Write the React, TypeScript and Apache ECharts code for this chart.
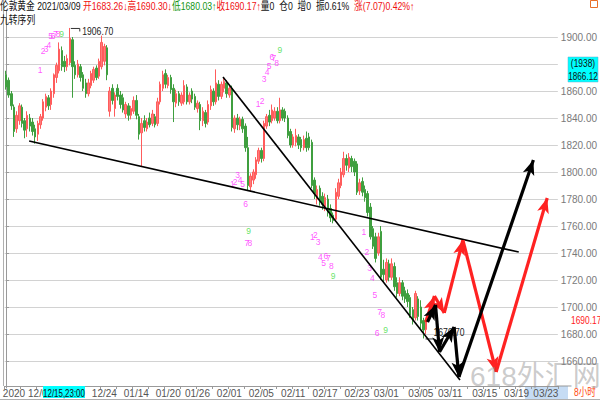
import React, { useEffect, useRef } from 'react';
import * as echarts from 'echarts';

const TOTAL_SLOTS = 208;
const categories: string[] = Array.from({ length: TOTAL_SLOTS }, (_, i) => String(i));

const xLabelIndex = [3, 13, 37, 49, 61, 72, 84, 96, 108, 120, 132, 143, 156, 167, 180, 192, 203];
const xLabelText = ['2020', '12/08', '12/24', '01/14', '01/20', '01/26', '02/01', '02/05', '02/11', '02/17', '02/23', '03/01', '03/05', '03/11', '03/15', '03/19', '03/23'];

// [open, close, low, high]
const candles: number[][] = [
  [1872, 1863, 1861, 1875], [1868, 1857, 1855, 1870], [1858, 1849, 1846, 1860], [1848, 1830, 1826, 1850],
  [1832, 1842, 1829, 1845], [1838, 1849, 1835, 1851], [1848, 1836, 1833, 1850], [1838, 1831, 1825, 1840],
  [1832, 1842, 1826, 1845], [1840, 1834, 1830, 1843], [1837, 1830, 1827, 1840], [1832, 1826, 1821, 1835],
  [1828, 1836, 1823, 1838], [1835, 1841, 1832, 1843], [1840, 1852, 1838, 1854], [1848, 1856, 1845, 1858],
  [1855, 1849, 1846, 1857], [1850, 1860, 1846, 1862], [1858, 1872, 1855, 1873], [1870, 1879, 1866, 1881],
  [1875, 1891, 1873, 1896], [1890, 1878, 1875, 1893], [1882, 1878, 1874, 1886], [1878, 1884, 1875, 1887],
  [1881, 1899, 1879, 1906.7], [1898, 1878, 1855, 1900], [1879, 1872, 1869, 1882], [1872, 1880, 1870, 1883],
  [1878, 1870, 1867, 1880], [1872, 1862, 1860, 1874], [1866, 1858, 1855, 1869], [1858, 1866, 1856, 1869],
  [1864, 1873, 1862, 1875], [1868, 1876, 1866, 1878], [1877, 1870, 1868, 1879], [1871, 1882, 1869, 1884],
  [1878, 1896, 1876, 1901], [1882, 1893, 1879, 1895], [1892, 1872, 1868, 1894], [1845, 1860, 1841, 1863],
  [1862, 1853, 1850, 1865], [1847, 1857, 1841, 1859], [1862, 1856, 1853, 1865], [1857, 1850, 1847, 1860],
  [1855, 1846, 1844, 1858], [1843, 1850, 1840, 1852], [1849, 1842, 1838, 1851], [1842, 1847, 1839, 1849],
  [1845, 1853, 1843, 1856], [1853, 1842, 1839, 1857], [1841, 1828, 1824, 1843], [1829, 1836, 1804, 1840],
  [1838, 1833, 1830, 1842], [1832, 1837, 1830, 1840], [1840, 1835, 1833, 1844], [1836, 1843, 1834, 1846],
  [1841, 1835, 1833, 1843], [1836, 1852, 1834, 1855], [1852, 1865, 1850, 1867], [1862, 1872, 1860, 1875],
  [1873, 1865, 1862, 1876], [1864, 1870, 1862, 1872], [1870, 1861, 1858, 1872], [1862, 1852, 1837, 1865],
  [1851, 1858, 1848, 1861], [1858, 1852, 1849, 1860], [1851, 1857, 1849, 1859], [1852, 1864, 1850, 1868],
  [1863, 1852, 1850, 1865], [1852, 1857, 1850, 1859], [1860, 1854, 1851, 1862], [1856, 1848, 1846, 1858],
  [1847, 1851, 1844, 1853], [1850, 1838, 1831, 1852], [1838, 1845, 1834, 1848], [1844, 1836, 1833, 1846],
  [1837, 1850, 1835, 1853], [1849, 1861, 1846, 1864], [1860, 1852, 1849, 1862], [1852, 1866, 1850, 1876],
  [1865, 1856, 1853, 1868], [1856, 1865, 1854, 1867], [1862, 1867, 1859, 1870], [1866, 1858, 1855, 1868],
  [1857, 1862, 1855, 1864], [1862, 1833, 1830, 1864], [1832, 1840, 1829, 1842], [1840, 1835, 1831, 1843],
  [1834, 1839, 1831, 1841], [1839, 1832, 1829, 1841], [1834, 1818, 1815, 1836], [1818, 1790, 1786.5, 1826],
  [1789, 1797, 1786, 1799], [1794, 1800, 1791, 1802], [1798, 1809, 1795, 1811], [1808, 1816, 1806, 1818],
  [1816, 1810, 1807, 1818], [1810, 1836, 1808, 1838], [1834, 1841, 1832, 1843], [1842, 1837, 1834, 1846],
  [1838, 1846, 1836, 1850], [1840, 1845, 1838, 1848], [1845, 1838, 1836, 1848], [1838, 1846, 1836, 1855],
  [1846, 1840, 1838, 1848], [1845, 1840, 1837, 1847], [1840, 1827, 1825, 1842], [1830, 1820, 1818, 1832],
  [1820, 1826, 1818, 1828], [1822, 1827, 1819, 1832], [1826, 1820, 1817, 1828], [1824, 1818, 1815, 1826],
  [1818, 1824, 1816, 1827], [1825, 1818, 1815, 1830], [1826, 1818, 1816, 1829], [1822, 1790, 1788, 1824],
  [1794, 1784, 1780, 1796], [1780, 1787, 1776, 1790], [1788, 1779, 1775, 1790], [1782, 1776, 1772, 1785],
  [1774, 1781, 1771, 1784], [1780, 1770, 1767, 1783], [1773, 1766, 1763, 1776], [1768, 1764, 1762, 1770],
  [1765, 1785, 1763, 1788], [1782, 1792, 1780, 1795], [1790, 1800, 1788, 1803], [1798, 1810, 1796, 1815],
  [1810, 1805, 1801, 1813], [1803, 1811, 1800, 1814], [1810, 1804, 1800, 1812], [1808, 1800, 1797, 1810],
  [1806, 1785, 1783, 1808], [1786, 1792, 1783, 1795], [1793, 1785, 1782, 1796], [1787, 1781, 1778, 1790],
  [1784, 1770, 1767, 1786], [1774, 1752, 1750, 1777], [1758, 1745, 1743, 1760], [1752, 1736, 1733, 1755],
  [1740, 1752, 1738, 1755], [1756, 1722, 1720, 1760], [1728, 1724, 1718, 1735], [1720, 1733, 1718, 1736],
  [1732, 1722, 1719, 1735], [1722, 1732, 1720, 1736], [1730, 1715, 1712, 1733], [1718, 1710, 1707, 1722],
  [1710, 1718, 1708, 1722], [1718, 1708, 1705, 1720], [1712, 1706, 1703, 1715], [1710, 1704, 1700, 1713],
  [1707, 1694, 1692, 1709], [1698, 1690, 1687, 1700], [1692, 1710, 1690, 1712], [1706, 1693, 1690, 1708],
  [1700, 1688, 1684, 1705], [1690, 1683, 1676.7, 1692], [1683.26, 1690.17, 1680.03, 1690.3],
];

// 九转序列 numbers: bar position, price position, text
const tdIdx = [
  12.8, 14.0, 15.1, 16.1, 16.8, 17.7, 18.6, 19.6, 20.9,
  94.8, 96.3, 97.1, 98.2, 98.9, 100.0, 100.7, 101.8, 103.0,
  85.1, 86.2, 87.1, 88.0, 89.0, 90.1, 90.6, 91.7, 91.2,
  115.2, 116.3, 117.4, 118.2, 119.4, 120.3, 121.2, 122.3, 123.0,
  134.6, 135.7, 136.7, 137.8, 138.7, 139.5, 140.5, 141.7, 142.7,
];
const tdPrice = [
  1875.6, 1889.6, 1891.1, 1894.1, 1900.7, 1900.7, 1902.2, 1902.2, 1902.2,
  1850.4, 1852.6, 1868.9, 1874.1, 1878.5, 1885.2, 1884.4, 1880.7, 1890.4,
  1791.1, 1792.6, 1797.8, 1794.1, 1791.1, 1776.3, 1747.4, 1747.4, 1756.3,
  1751.6, 1753.3, 1748.4, 1736.8, 1732.4, 1737.8, 1736.1, 1730.4, 1723.0,
  1755.8, 1741.0, 1728.7, 1721.3, 1708.9, 1681.0, 1696.5, 1694.1, 1683.0,
];
const tdText = [
  '1', '2', '3', '4', '5', '6', '7', '8', '9',
  '1', '2', '3', '4', '5', '6', '7', '8', '9',
  '1', '2', '3', '4', '5', '6', '7', '8', '9',
  '1', '2', '3', '4', '5', '6', '7', '8', '9',
  '1', '2', '3', '4', '5', '6', '7', '8', '9',
];

// trend lines [[idx, price], [idx, price]]
const trendLong = [[8.7, 1823.0], [192.8, 1740.7]];
const trendSteep = [[81.6, 1870.4], [170.7, 1645.9]];

// projected zig-zag paths
const blackPathIdx = [158.5, 161.5, 163.0, 168.5, 170.3, 198.3];
const blackPathPrice = [1688.9, 1701.5, 1666.7, 1685.2, 1648.1, 1808.9];
const redPathIdx = [157.8, 161.1, 164.8, 171.8, 184.3, 203.5];
const redPathPrice = [1688.9, 1708.1, 1695.6, 1749.6, 1651.9, 1780.7];

const highMarkIdx = 24;
const highMarkValue = 1906.7;
const lowMarkIdx = 157;
const lowMarkValue = 1676.7;
const lastClose = 1690.17;
const hiddenYLabel = 1880;

const NARROW = "'Liberation Sans Narrow', 'Arial Narrow', Arial, sans-serif";
const MIXED = "Arial, 'Liberation Sans', 'Noto Sans CJK SC', sans-serif";

function segments(xs: number[], ys: number[]) {
  const out: any[] = [];
  for (let k = 0; k < xs.length - 1; k++) {
    out.push([{ coord: [xs[k], ys[k]] }, { coord: [xs[k + 1], ys[k + 1]] }]);
  }
  return out;
}

export default function App() {
  const ref = useRef<HTMLDivElement>(null);
  useEffect(() => {
    if (!ref.current) return;
    const chart = echarts.init(ref.current, undefined, { renderer: 'svg' });
    const splitColors = ['rgba(0,0,0,0)'];
    for (let k = 0; k < 13; k++) splitColors.push('#d2d2d2');
    splitColors.push('rgba(0,0,0,0)');

    const option: any = {
      animation: false,
      backgroundColor: '#ffffff',
      grid: { left: 3, right: 32, top: 10, bottom: 12, containLabel: false },
      xAxis: [
        {
          type: 'category',
          data: categories,
          boundaryGap: true,
          offset: -2,
          axisLine: { lineStyle: { color: '#9a9a9a', width: 1 } },
          axisTick: { show: true, interval: 5, length: 3, lineStyle: { color: '#9a9a9a' } },
          axisLabel: {
            interval: (idx: number) => xLabelIndex.indexOf(idx) >= 0,
            formatter: (_v: string, idx: number) => {
              const k = xLabelIndex.indexOf(idx);
              return k >= 0 ? xLabelText[k] : '';
            },
            color: '#555',
            fontSize: 10,
            fontFamily: NARROW,
            margin: 2,
          },
          splitLine: { show: false },
        },
        {
          type: 'value',
          min: -0.5,
          max: TOTAL_SLOTS - 0.5,
          show: false,
        },
      ],
      yAxis: {
        type: 'value',
        position: 'right',
        min: 1640,
        max: 1920,
        interval: 20,
        scale: true,
        axisLine: { show: true, lineStyle: { color: '#9a9a9a' } },
        axisTick: { show: true, length: 3, lineStyle: { color: '#9a9a9a' } },
        axisLabel: {
          formatter: (v: number) => (v === hiddenYLabel ? '' : v.toFixed(2)),
          color: '#7a7a7a',
          fontSize: 10,
          fontFamily: NARROW,
          margin: 3,
          showMinLabel: false,
          showMaxLabel: false,
        },
        splitLine: { show: true, lineStyle: { color: splitColors, width: 1 } },
      },
      series: [
        {
          type: 'candlestick',
          xAxisIndex: 0,
          yAxisIndex: 0,
          data: candles,
          barWidth: 2,
          silent: true,
          itemStyle: {
            color: '#ff7b7b',
            color0: '#3f9f3f',
            borderColor: '#ff5c5c',
            borderColor0: '#3f9f3f',
            borderWidth: 1,
          },
          z: 2,
        },
        {
          type: 'line',
          xAxisIndex: 1,
          yAxisIndex: 0,
          data: [],
          silent: true,
          z: 3,
          markLine: {
            silent: true,
            symbol: ['none', 'none'],
            label: { show: false },
            lineStyle: { color: '#000', width: 1.6, type: 'solid' },
            emphasis: { disabled: true },
            data: [
              [{ coord: trendLong[0] }, { coord: trendLong[1] }],
              [{ coord: trendSteep[0] }, { coord: trendSteep[1] }],
            ],
          },
        },
        {
          type: 'scatter',
          xAxisIndex: 1,
          yAxisIndex: 0,
          silent: true,
          symbolSize: 1,
          itemStyle: { color: 'rgba(0,0,0,0)' },
          z: 4,
          labelLayout: { hideOverlap: false },
          label: {
            show: true,
            position: 'inside',
            formatter: '{b}',
            fontSize: 8.5,
            fontFamily: NARROW,
          },
          data: tdIdx.map((x, k) => ({
            name: tdText[k],
            value: [x, tdPrice[k]],
            label: { color: tdText[k] === '9' ? '#3ddc3d' : '#ff2cff' },
          })),
        },
        {
          type: 'line',
          xAxisIndex: 1,
          yAxisIndex: 0,
          data: [],
          silent: true,
          z: 5,
          markLine: {
            silent: true,
            symbol: ['none', 'arrow'],
            symbolSize: [9, 15],
            label: { show: false },
            lineStyle: { color: '#ff2222', width: 3.2, type: 'solid', opacity: 1 },
            emphasis: { disabled: true },
            data: segments(redPathIdx, redPathPrice),
          },
        },
        {
          type: 'line',
          xAxisIndex: 1,
          yAxisIndex: 0,
          data: [],
          silent: true,
          z: 6,
          markLine: {
            silent: true,
            symbol: ['none', 'arrow'],
            symbolSize: [9, 15],
            label: { show: false },
            lineStyle: { color: '#000000', width: 3.2, type: 'solid', opacity: 1 },
            emphasis: { disabled: true },
            data: segments(blackPathIdx, blackPathPrice),
          },
        },
      ],
    };
    chart.setOption(option);

    const px = (i: number, p: number) => chart.convertToPixel({ seriesIndex: 2 }, [i, p]) as number[];
    const hp = px(highMarkIdx, highMarkValue);
    const lp = px(lowMarkIdx, lowMarkValue);
    const cp = px(0, lastClose);

    const headerRich = {
      a: { fill: '#111', fontSize: 11, fontFamily: MIXED },
      r: { fill: '#f01010', fontSize: 11, fontFamily: MIXED },
      g: { fill: '#149614', fontSize: 11, fontFamily: MIXED },
    };

    const graphic: any[] = [
      { type: 'rect', z: -10, shape: { x: 525, y: 386, width: 43, height: 13 }, style: { fill: '#c6dcf4' } },
      { type: 'line', z: 10, shape: { x1: 3.5, y1: 0, x2: 3.5, y2: 386 }, style: { stroke: '#b0b0b0', lineWidth: 1 } },
      { type: 'line', z: 10, shape: { x1: 0, y1: 399.5, x2: 600, y2: 399.5 }, style: { stroke: '#b0b0b0', lineWidth: 1 } },
      {
        type: 'text', x: 0, y: 1, scaleX: 0.79, z: 20,
        style: {
          text: '{a|伦敦黄金 2021/03/09 }{r|开1683.26↓高1690.30↓}{g|低1680.03↑}{r|收1690.17↑}{a|量0  仓0  增0  振0.61%  }{r|涨(7.07)0.42%↑}',
          rich: headerRich,
          fontSize: 11,
          fontFamily: MIXED,
          fill: '#111',
        },
      },
      {
        type: 'text', x: 0, y: 14, scaleX: 0.8, z: 20,
        style: { text: '九转序列', fontSize: 11, fontFamily: "'Noto Sans CJK SC', sans-serif", fill: '#111' },
      },
      {
        type: 'polyline', z: 20,
        shape: { points: [[hp[0] + 1, hp[1] + 0.5], [hp[0] + 10, hp[1] + 0.5], [hp[0] + 10, hp[1] + 3.5]] },
        style: { stroke: '#333', lineWidth: 1, fill: 'none' },
      },
      {
        type: 'text', x: hp[0] + 12.5, y: hp[1] + 3.5, scaleX: 0.78, z: 20,
        style: { text: '1906.70', fontSize: 11, fontFamily: MIXED, fill: '#222', verticalAlign: 'middle' },
      },
      {
        type: 'line', z: 4,
        shape: { x1: lp[0] + 2, y1: lp[1] + 0.5, x2: lp[0] + 10, y2: lp[1] + 0.5 },
        style: { stroke: '#333', lineWidth: 1 },
      },
      {
        type: 'text', x: lp[0] + 10, y: lp[1] - 0.5, scaleX: 0.78, z: 4,
        style: { text: '1676.70', fontSize: 11, fontFamily: MIXED, fill: '#222', verticalAlign: 'bottom' },
      },
      {
        type: 'text', x: 571, y: cp[1], scaleX: 0.8, z: 20,
        style: { text: lastClose.toFixed(2), fontSize: 10.5, fontFamily: MIXED, fill: '#ff1a1a', verticalAlign: 'middle' },
      },
      { type: 'rect', z: 30, shape: { x: 568, y: 57, width: 30, height: 25 }, style: { fill: '#00ffff', stroke: '#6ac', lineWidth: 0.5 } },
      {
        type: 'text', x: 583, y: 63.5, scaleX: 0.8, z: 31,
        style: { text: '(1938)', fontSize: 10.5, fontFamily: MIXED, fill: '#111', align: 'center', verticalAlign: 'middle' },
      },
      {
        type: 'text', x: 583, y: 76, scaleX: 0.78, z: 31,
        style: { text: '1866.12', fontSize: 10.5, fontFamily: MIXED, fill: '#111', align: 'center', verticalAlign: 'middle' },
      },
      { type: 'rect', z: 30, shape: { x: 43, y: 386, width: 42, height: 12 }, style: { fill: '#00ffff' } },
      {
        type: 'text', x: 64, y: 392.5, scaleX: 0.72, z: 31,
        style: { text: '12/15,23:00', fontSize: 11, fontFamily: MIXED, fill: '#111', align: 'center', verticalAlign: 'middle' },
      },
      {
        type: 'text', x: 574, y: 392.5, scaleX: 0.78, z: 31,
        style: { text: '8小时', fontSize: 11, fontFamily: "Arial, 'Noto Sans CJK SC', sans-serif", fill: '#ff4a10', verticalAlign: 'middle' },
      },
      { type: 'rect', z: 31, shape: { x: 590.5, y: 0.5, width: 7, height: 7 }, style: { fill: 'none', stroke: '#e8702a', lineWidth: 1 } },
      {
        type: 'text', x: 470, y: 376, z: 40,
        style: { text: '618外汇网', fontSize: 28, fontFamily: "Arial, 'Noto Sans CJK SC', sans-serif", fill: 'rgba(140,140,140,0.45)', verticalAlign: 'middle' },
      },
    ];
    chart.setOption({ graphic });

    return () => chart.dispose();
  }, []);

  return <div ref={ref} style={{ width: 600, height: 400, position: 'absolute', left: 0, top: 0 }} />;
}
